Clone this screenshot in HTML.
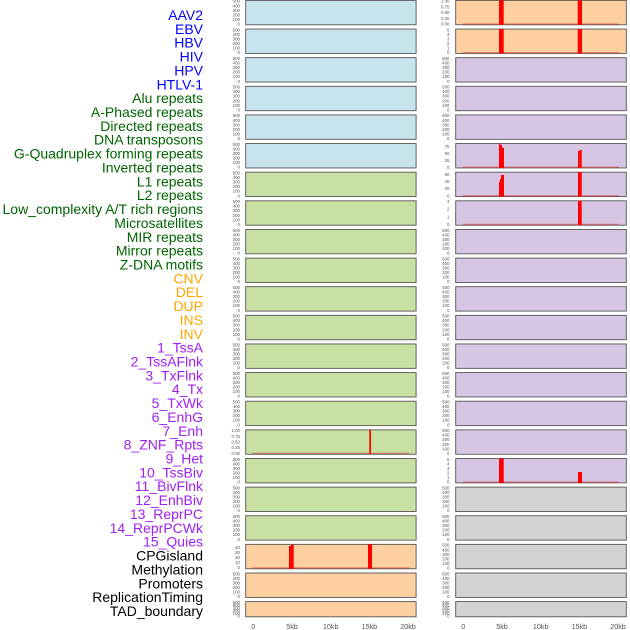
<!DOCTYPE html>
<html>
<head>
<meta charset="utf-8">
<style>
html,body{margin:0;padding:0;background:#fff;}
svg{display:block;}
.lb{font-family:"Liberation Sans",Arial,sans-serif;font-size:14px;text-anchor:end;}
.tk{font-family:"Liberation Sans",Arial,sans-serif;font-size:4.4px;fill:#555;text-anchor:end;}
.xt{font-family:"Liberation Sans",Arial,sans-serif;font-size:7.2px;fill:#555;text-anchor:middle;}
.p{stroke:#555;stroke-width:0.9;}
.b{fill:#ff0000;}
.bl{stroke:rgba(220,40,40,0.5);stroke-width:1.3;}
</style>
</head>
<body>
<svg width="630" height="630" viewBox="0 0 630 630" xmlns="http://www.w3.org/2000/svg">
<rect x="0" y="0" width="630" height="630" fill="#fff"/>

<!-- Labels -->
<g class="lb">
<text x="203" y="20" fill="#0000ff">AAV2</text>
<text x="203" y="33.86" fill="#0000ff">EBV</text>
<text x="203" y="47.72" fill="#0000ff">HBV</text>
<text x="203" y="61.58" fill="#0000ff">HIV</text>
<text x="203" y="75.44" fill="#0000ff">HPV</text>
<text x="203" y="89.3" fill="#0000ff">HTLV-1</text>
<text x="203" y="103.16" fill="#006400">Alu repeats</text>
<text x="203" y="117.02" fill="#006400">A-Phased repeats</text>
<text x="203" y="130.88" fill="#006400">Directed repeats</text>
<text x="203" y="144.74" fill="#006400">DNA transposons</text>
<text x="203" y="158.6" fill="#006400">G-Quadruplex forming repeats</text>
<text x="203" y="172.46" fill="#006400">Inverted repeats</text>
<text x="203" y="186.32" fill="#006400">L1 repeats</text>
<text x="203" y="200.18" fill="#006400">L2 repeats</text>
<text x="203" y="214.04" fill="#006400">Low_complexity A/T rich regions</text>
<text x="203" y="227.9" fill="#006400">Microsatellites</text>
<text x="203" y="241.76" fill="#006400">MIR repeats</text>
<text x="203" y="255.62" fill="#006400">Mirror repeats</text>
<text x="203" y="269.48" fill="#006400">Z-DNA motifs</text>
<text x="203" y="283.34" fill="#ffa500">CNV</text>
<text x="203" y="297.2" fill="#ffa500">DEL</text>
<text x="203" y="311.06" fill="#ffa500">DUP</text>
<text x="203" y="324.92" fill="#ffa500">INS</text>
<text x="203" y="338.78" fill="#ffa500">INV</text>
<text x="203" y="352.64" fill="#a020f0">1_TssA</text>
<text x="203" y="366.5" fill="#a020f0">2_TssAFlnk</text>
<text x="203" y="380.36" fill="#a020f0">3_TxFlnk</text>
<text x="203" y="394.22" fill="#a020f0">4_Tx</text>
<text x="203" y="408.08" fill="#a020f0">5_TxWk</text>
<text x="203" y="421.94" fill="#a020f0">6_EnhG</text>
<text x="203" y="435.8" fill="#a020f0">7_Enh</text>
<text x="203" y="449.66" fill="#a020f0">8_ZNF_Rpts</text>
<text x="203" y="463.52" fill="#a020f0">9_Het</text>
<text x="203" y="477.38" fill="#a020f0">10_TssBiv</text>
<text x="203" y="491.24" fill="#a020f0">11_BivFlnk</text>
<text x="203" y="505.1" fill="#a020f0">12_EnhBiv</text>
<text x="203" y="518.96" fill="#a020f0">13_ReprPC</text>
<text x="203" y="532.82" fill="#a020f0">14_ReprPCWk</text>
<text x="203" y="546.68" fill="#a020f0">15_Quies</text>
<text x="203" y="560.54" fill="#000">CPGisland</text>
<text x="203" y="574.4" fill="#000">Methylation</text>
<text x="203" y="588.26" fill="#000">Promoters</text>
<text x="203" y="602.12" fill="#000">ReplicationTiming</text>
<text x="203" y="615.98" fill="#000">TAD_boundary</text>
</g>

<!-- Left column panels -->
<g class="p">
<rect x="245.7" y="0.4" width="170.4" height="24.4" fill="#c7e3ec"/>
<rect x="245.7" y="29.03" width="170.4" height="24.4" fill="#c7e3ec"/>
<rect x="245.7" y="57.66" width="170.4" height="24.4" fill="#c7e3ec"/>
<rect x="245.7" y="86.29" width="170.4" height="24.4" fill="#c7e3ec"/>
<rect x="245.7" y="114.92" width="170.4" height="24.4" fill="#c7e3ec"/>
<rect x="245.7" y="143.55" width="170.4" height="24.4" fill="#c7e3ec"/>
<rect x="245.7" y="172.18" width="170.4" height="24.4" fill="#c8e0a1"/>
<rect x="245.7" y="200.81" width="170.4" height="24.4" fill="#c8e0a1"/>
<rect x="245.7" y="229.44" width="170.4" height="24.4" fill="#c8e0a1"/>
<rect x="245.7" y="258.07" width="170.4" height="24.4" fill="#c8e0a1"/>
<rect x="245.7" y="286.7" width="170.4" height="24.4" fill="#c8e0a1"/>
<rect x="245.7" y="315.33" width="170.4" height="24.4" fill="#c8e0a1"/>
<rect x="245.7" y="343.96" width="170.4" height="24.4" fill="#c8e0a1"/>
<rect x="245.7" y="372.59" width="170.4" height="24.4" fill="#c8e0a1"/>
<rect x="245.7" y="401.22" width="170.4" height="24.4" fill="#c8e0a1"/>
<rect x="245.7" y="429.85" width="170.4" height="24.4" fill="#c8e0a1"/>
<rect x="245.7" y="458.48" width="170.4" height="24.4" fill="#c8e0a1"/>
<rect x="245.7" y="487.11" width="170.4" height="24.4" fill="#c8e0a1"/>
<rect x="245.7" y="515.74" width="170.4" height="24.4" fill="#c8e0a1"/>
<rect x="245.7" y="544.37" width="170.4" height="24.4" fill="#ffd09f"/>
<rect x="245.7" y="573.0" width="170.4" height="24.4" fill="#ffd09f"/>
<rect x="245.7" y="601.6" width="170.4" height="15.2" fill="#ffd09f"/>
</g>

<!-- Right column panels -->
<g class="p">
<rect x="455.7" y="0.4" width="170.6" height="24.4" fill="#ffd09f"/>
<rect x="455.7" y="29.03" width="170.6" height="24.4" fill="#ffd09f"/>
<rect x="455.7" y="57.66" width="170.6" height="24.4" fill="#d6c6e3"/>
<rect x="455.7" y="86.29" width="170.6" height="24.4" fill="#d6c6e3"/>
<rect x="455.7" y="114.92" width="170.6" height="24.4" fill="#d6c6e3"/>
<rect x="455.7" y="143.55" width="170.6" height="24.4" fill="#d6c6e3"/>
<rect x="455.7" y="172.18" width="170.6" height="24.4" fill="#d6c6e3"/>
<rect x="455.7" y="200.81" width="170.6" height="24.4" fill="#d6c6e3"/>
<rect x="455.7" y="229.44" width="170.6" height="24.4" fill="#d6c6e3"/>
<rect x="455.7" y="258.07" width="170.6" height="24.4" fill="#d6c6e3"/>
<rect x="455.7" y="286.7" width="170.6" height="24.4" fill="#d6c6e3"/>
<rect x="455.7" y="315.33" width="170.6" height="24.4" fill="#d6c6e3"/>
<rect x="455.7" y="343.96" width="170.6" height="24.4" fill="#d6c6e3"/>
<rect x="455.7" y="372.59" width="170.6" height="24.4" fill="#d6c6e3"/>
<rect x="455.7" y="401.22" width="170.6" height="24.4" fill="#d6c6e3"/>
<rect x="455.7" y="429.85" width="170.6" height="24.4" fill="#d6c6e3"/>
<rect x="455.7" y="458.48" width="170.6" height="24.4" fill="#d6c6e3"/>
<rect x="455.7" y="487.11" width="170.6" height="24.4" fill="#d3d3d3"/>
<rect x="455.7" y="515.74" width="170.6" height="24.4" fill="#d3d3d3"/>
<rect x="455.7" y="544.37" width="170.6" height="24.4" fill="#d3d3d3"/>
<rect x="455.7" y="573.0" width="170.6" height="24.4" fill="#d3d3d3"/>
<rect x="455.7" y="601.6" width="170.6" height="15.2" fill="#d3d3d3"/>
</g>

<!-- Red baselines -->
<g class="bl">
<line x1="462.7" x2="619" y1="24" y2="24"/>
<line x1="462.7" x2="619" y1="52.6" y2="52.6"/>
<line x1="462.7" x2="619" y1="167.2" y2="167.2"/>
<line x1="462.7" x2="619" y1="195.8" y2="195.8"/>
<line x1="462.7" x2="619" y1="224.4" y2="224.4"/>
<line x1="462.7" x2="619" y1="482.1" y2="482.1"/>
<line x1="252.5" x2="409" y1="453.4" y2="453.4"/>
<line x1="252.5" x2="409" y1="567.9" y2="567.9"/>
</g>

<!-- Red bars -->
<g class="b">
<!-- right row 0 -->
<rect x="499" y="0.4" width="4.7" height="24.4"/>
<rect x="577.7" y="0.4" width="4.3" height="24.4"/>
<!-- right row 1 -->
<rect x="499" y="29.03" width="4.7" height="24.4"/>
<rect x="577.7" y="29.03" width="4.3" height="24.4"/>
<!-- right row 5 -->
<rect x="499" y="143.55" width="1.5" height="24.4"/>
<rect x="500.5" y="145" width="1.5" height="22.95"/>
<rect x="502" y="147.7" width="2" height="20.25"/>
<rect x="578" y="150.7" width="1.7" height="17.25"/>
<rect x="579.7" y="150" width="2" height="17.95"/>
<!-- right row 6 -->
<rect x="499" y="181.7" width="1" height="14.88"/>
<rect x="500" y="179" width="1" height="17.58"/>
<rect x="501" y="175" width="3" height="21.58"/>
<rect x="578" y="172.18" width="3.7" height="24.4"/>
<!-- right row 7 -->
<rect x="578" y="200.81" width="3.7" height="24.4"/>
<!-- right row 16 -->
<rect x="499" y="458.48" width="4.7" height="24.4"/>
<rect x="578" y="472" width="4" height="10.88"/>
<!-- left row 15 -->
<rect x="369.3" y="429.85" width="1.7" height="24.4"/>
<!-- left row 19 -->
<rect x="289" y="546" width="2" height="22.77"/>
<rect x="291" y="544.7" width="2.7" height="24.07"/>
<rect x="368" y="544.37" width="4" height="24.4"/>
</g>

<!-- Left column y tick labels -->
<g class="tk">
<g transform="translate(240,0.4)"><text y="25.1">0</text><text y="20.5">100</text><text y="16">200</text><text y="11.4">300</text><text y="6.9">400</text><text y="2.3">500</text></g>
<g transform="translate(240,29.03)"><text y="25.1">0</text><text y="20.5">100</text><text y="16">200</text><text y="11.4">300</text><text y="6.9">400</text><text y="2.3">500</text></g>
<g transform="translate(240,57.66)"><text y="25.1">0</text><text y="20.5">100</text><text y="16">200</text><text y="11.4">300</text><text y="6.9">400</text><text y="2.3">500</text></g>
<g transform="translate(240,86.29)"><text y="25.1">0</text><text y="20.5">100</text><text y="16">200</text><text y="11.4">300</text><text y="6.9">400</text><text y="2.3">500</text></g>
<g transform="translate(240,114.92)"><text y="25.1">0</text><text y="20.5">100</text><text y="16">200</text><text y="11.4">300</text><text y="6.9">400</text><text y="2.3">500</text></g>
<g transform="translate(240,143.55)"><text y="25.1">0</text><text y="20.5">100</text><text y="16">200</text><text y="11.4">300</text><text y="6.9">400</text><text y="2.3">500</text></g>
<g transform="translate(240,172.18)"><text y="25.1">0</text><text y="20.5">100</text><text y="16">200</text><text y="11.4">300</text><text y="6.9">400</text><text y="2.3">500</text></g>
<g transform="translate(240,200.81)"><text y="25.1">0</text><text y="20.5">100</text><text y="16">200</text><text y="11.4">300</text><text y="6.9">400</text><text y="2.3">500</text></g>
<g transform="translate(240,229.44)"><text y="25.1">0</text><text y="20.5">100</text><text y="16">200</text><text y="11.4">300</text><text y="6.9">400</text><text y="2.3">500</text></g>
<g transform="translate(240,258.07)"><text y="25.1">0</text><text y="20.5">100</text><text y="16">200</text><text y="11.4">300</text><text y="6.9">400</text><text y="2.3">500</text></g>
<g transform="translate(240,286.7)"><text y="25.1">0</text><text y="20.5">100</text><text y="16">200</text><text y="11.4">300</text><text y="6.9">400</text><text y="2.3">500</text></g>
<g transform="translate(240,315.33)"><text y="25.1">0</text><text y="20.5">100</text><text y="16">200</text><text y="11.4">300</text><text y="6.9">400</text><text y="2.3">500</text></g>
<g transform="translate(240,343.96)"><text y="25.1">0</text><text y="20.5">100</text><text y="16">200</text><text y="11.4">300</text><text y="6.9">400</text><text y="2.3">500</text></g>
<g transform="translate(240,372.59)"><text y="25.1">0</text><text y="20.5">100</text><text y="16">200</text><text y="11.4">300</text><text y="6.9">400</text><text y="2.3">500</text></g>
<g transform="translate(240,401.22)"><text y="25.1">0</text><text y="20.5">100</text><text y="16">200</text><text y="11.4">300</text><text y="6.9">400</text><text y="2.3">500</text></g>
<g transform="translate(240,429.85)"><text y="25.1">0.00</text><text y="19.4">0.25</text><text y="13.7">0.50</text><text y="8">0.75</text><text y="2.3">1.00</text></g>
<g transform="translate(240,458.48)"><text y="25.1">0</text><text y="20.5">100</text><text y="16">200</text><text y="11.4">300</text><text y="6.9">400</text><text y="2.3">500</text></g>
<g transform="translate(240,487.11)"><text y="25.1">0</text><text y="20.5">100</text><text y="16">200</text><text y="11.4">300</text><text y="6.9">400</text><text y="2.3">500</text></g>
<g transform="translate(240,515.74)"><text y="25.1">0</text><text y="20.5">100</text><text y="16">200</text><text y="11.4">300</text><text y="6.9">400</text><text y="2.3">500</text></g>
<g transform="translate(240,544.37)"><text y="24.8">0</text><text y="19.7">10</text><text y="14.6">20</text><text y="9.5">30</text><text y="4.4">40</text></g>
<g transform="translate(240,573.0)"><text y="25.1">0</text><text y="20.5">100</text><text y="16">200</text><text y="11.4">300</text><text y="6.9">400</text><text y="2.3">500</text></g>
<g transform="translate(240,601.6)"><text y="15.9">0</text><text y="13.2">100</text><text y="10.5">200</text><text y="7.7">300</text><text y="5">400</text><text y="2.3">500</text></g>
</g>

<!-- Right column y tick labels -->
<g class="tk">
<g transform="translate(449.5,0.4)"><text y="25.1">0.00</text><text y="19.4">0.25</text><text y="13.7">0.50</text><text y="8">0.75</text><text y="2.3">1.00</text></g>
<g transform="translate(449.5,29.03)"><text y="25.1">0</text><text y="20.5">1</text><text y="16">2</text><text y="11.4">3</text><text y="6.9">4</text><text y="2.3">5</text></g>
<g transform="translate(449.5,57.66)"><text y="25.1">0</text><text y="20.5">100</text><text y="16">200</text><text y="11.4">300</text><text y="6.9">400</text><text y="2.3">500</text></g>
<g transform="translate(449.5,86.29)"><text y="25.1">0</text><text y="20.5">100</text><text y="16">200</text><text y="11.4">300</text><text y="6.9">400</text><text y="2.3">500</text></g>
<g transform="translate(449.5,114.92)"><text y="25.1">0</text><text y="20.5">100</text><text y="16">200</text><text y="11.4">300</text><text y="6.9">400</text><text y="2.3">500</text></g>
<g transform="translate(449.5,143.55)"><text y="25.25">0</text><text y="18.4">25</text><text y="11.5">50</text><text y="4.65">75</text></g>
<g transform="translate(449.5,172.18)"><text y="25.3">0</text><text y="18">20</text><text y="11">40</text><text y="3.6">60</text></g>
<g transform="translate(449.5,200.81)"><text y="25.1">0</text><text y="17.5">1</text><text y="9.9">2</text><text y="2.3">3</text></g>
<g transform="translate(449.5,229.44)"><text y="25.1">0</text><text y="20.5">100</text><text y="16">200</text><text y="11.4">300</text><text y="6.9">400</text><text y="2.3">500</text></g>
<g transform="translate(449.5,258.07)"><text y="25.1">0</text><text y="20.5">100</text><text y="16">200</text><text y="11.4">300</text><text y="6.9">400</text><text y="2.3">500</text></g>
<g transform="translate(449.5,286.7)"><text y="25.1">0</text><text y="20.5">100</text><text y="16">200</text><text y="11.4">300</text><text y="6.9">400</text><text y="2.3">500</text></g>
<g transform="translate(449.5,315.33)"><text y="25.1">0</text><text y="20.5">100</text><text y="16">200</text><text y="11.4">300</text><text y="6.9">400</text><text y="2.3">500</text></g>
<g transform="translate(449.5,343.96)"><text y="25.1">0</text><text y="20.5">100</text><text y="16">200</text><text y="11.4">300</text><text y="6.9">400</text><text y="2.3">500</text></g>
<g transform="translate(449.5,372.59)"><text y="25.1">0</text><text y="20.5">100</text><text y="16">200</text><text y="11.4">300</text><text y="6.9">400</text><text y="2.3">500</text></g>
<g transform="translate(449.5,401.22)"><text y="25.1">0</text><text y="20.5">100</text><text y="16">200</text><text y="11.4">300</text><text y="6.9">400</text><text y="2.3">500</text></g>
<g transform="translate(449.5,429.85)"><text y="25.1">0</text><text y="20.5">100</text><text y="16">200</text><text y="11.4">300</text><text y="6.9">400</text><text y="2.3">500</text></g>
<g transform="translate(449.5,458.48)"><text y="25.1">0</text><text y="20.5">1</text><text y="16">2</text><text y="11.4">3</text><text y="6.9">4</text><text y="2.3">5</text></g>
<g transform="translate(449.5,487.11)"><text y="25.1">0</text><text y="20.5">100</text><text y="16">200</text><text y="11.4">300</text><text y="6.9">400</text><text y="2.3">500</text></g>
<g transform="translate(449.5,515.74)"><text y="25.1">0</text><text y="20.5">100</text><text y="16">200</text><text y="11.4">300</text><text y="6.9">400</text><text y="2.3">500</text></g>
<g transform="translate(449.5,544.37)"><text y="25.1">0</text><text y="20.5">100</text><text y="16">200</text><text y="11.4">300</text><text y="6.9">400</text><text y="2.3">500</text></g>
<g transform="translate(449.5,573.0)"><text y="25.1">0</text><text y="20.5">100</text><text y="16">200</text><text y="11.4">300</text><text y="6.9">400</text><text y="2.3">500</text></g>
<g transform="translate(449.5,601.6)"><text y="15.9">0</text><text y="13.2">100</text><text y="10.5">200</text><text y="7.7">300</text><text y="5">400</text><text y="2.3">500</text></g>
</g>

<!-- X axis tick labels -->
<g class="xt">
<text x="253.3" y="629">0</text>
<text x="292" y="629">5kb</text>
<text x="330.7" y="629">10kb</text>
<text x="369.4" y="629">15kb</text>
<text x="408" y="629">20kb</text>
<text x="463.3" y="629">0</text>
<text x="502" y="629">5kb</text>
<text x="540.7" y="629">10kb</text>
<text x="579.4" y="629">15kb</text>
<text x="618" y="629">20kb</text>
</g>
</svg>
</body>
</html>
